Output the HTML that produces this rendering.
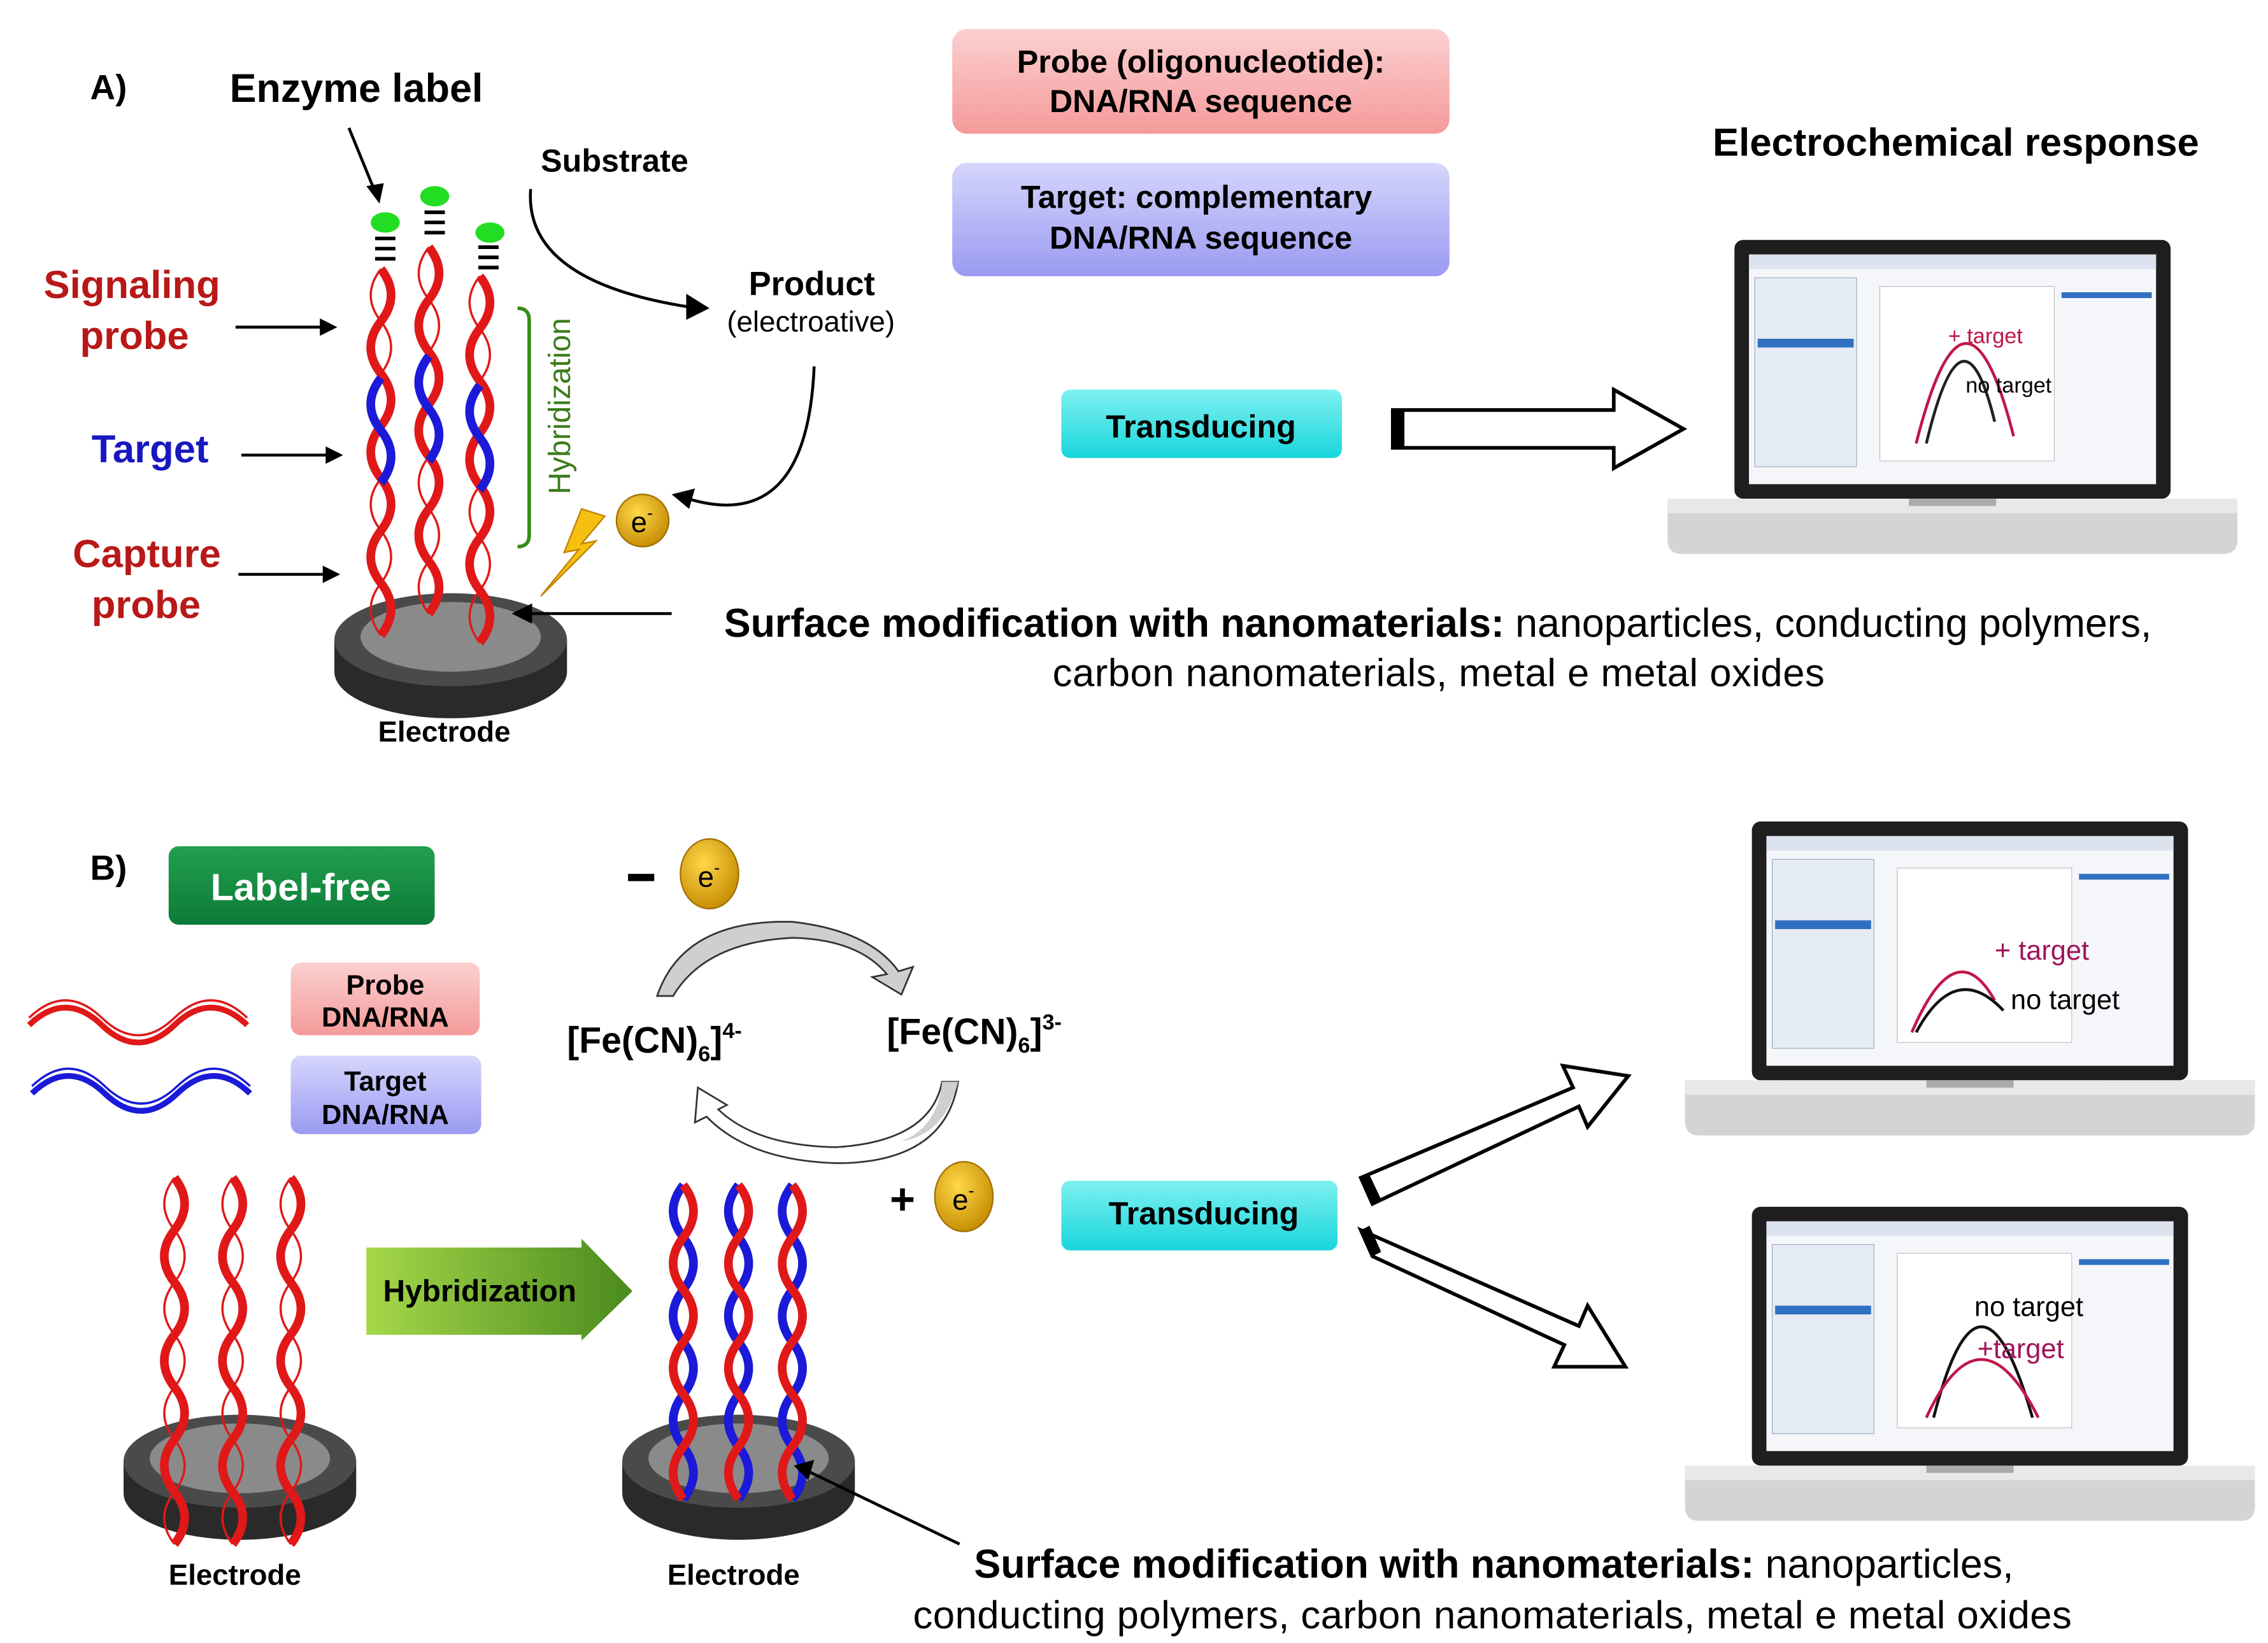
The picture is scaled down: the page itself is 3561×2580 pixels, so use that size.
<!DOCTYPE html>
<html><head><meta charset="utf-8"><style>
html,body{margin:0;padding:0;background:#fff}
svg{display:block}
text{font-family:"Liberation Sans",Arial,sans-serif}
</style></head><body>
<svg width="3561" height="2580" viewBox="0 0 1560 1130" preserveAspectRatio="none" xmlns="http://www.w3.org/2000/svg">
<defs>
<linearGradient id="pink" x1="0" y1="0" x2="0" y2="1"><stop offset="0" stop-color="#fbd0d0"/><stop offset="1" stop-color="#f59a9a"/></linearGradient>
<linearGradient id="blu" x1="0" y1="0" x2="0" y2="1"><stop offset="0" stop-color="#d6d6fc"/><stop offset="1" stop-color="#9a9af2"/></linearGradient>
<linearGradient id="cyan" x1="0" y1="0" x2="0" y2="1"><stop offset="0" stop-color="#7ff0f0"/><stop offset="1" stop-color="#18d6dc"/></linearGradient>
<linearGradient id="grn" x1="0" y1="0" x2="0" y2="1"><stop offset="0" stop-color="#22a050"/><stop offset="1" stop-color="#0c7a36"/></linearGradient>
<linearGradient id="harrow" x1="0" y1="0" x2="1" y2="0"><stop offset="0" stop-color="#a6d84a"/><stop offset="1" stop-color="#4a8a1e"/></linearGradient>
<radialGradient id="gold" cx="0.4" cy="0.35" r="0.7"><stop offset="0" stop-color="#ffd84a"/><stop offset="1" stop-color="#c48a00"/></radialGradient>
<g id="electrode">
<path d="M-80,0 L-80,22 A80,32 0 0 0 80,22 L80,0 Z" fill="#2a2a2a"/>
<ellipse cx="0" cy="0" rx="80" ry="32" fill="#4a4a4a"/>
<ellipse cx="0" cy="-2" rx="62" ry="24" fill="#8a8a8a"/>
</g>
<g id="redstrand">
<path d="M0,0 q14,18 0,36 t0,36 t0,36 t0,36 t0,36 t0,36 t0,36" fill="none" stroke="#e01818" stroke-width="6"/>
<path d="M0,0 q-14,18 0,36 t0,36 t0,36 t0,36 t0,36 t0,36 t0,36" fill="none" stroke="#e01818" stroke-width="1.5"/>
</g>
<g id="duplex">
<path d="M0,0 q-14,18 0,36 t0,36 t0,36 t0,36 t0,36 t0,36" fill="none" stroke="#1a1ad8" stroke-width="6"/>
<path d="M0,0 q14,18 0,36 t0,36 t0,36 t0,36 t0,36 t0,36" fill="none" stroke="#e01818" stroke-width="6"/>
</g>
<g id="laptop">
<rect x="0" y="0" width="300" height="178" rx="6" fill="#1e1e1e"/>
<rect x="10" y="10" width="280" height="158" fill="#f4f6fa"/>
<rect x="10" y="10" width="280" height="10" fill="#dde3ee"/>
<rect x="14" y="26" width="70" height="130" fill="#e6ecf4" stroke="#9ab" stroke-width="0.5"/>
<rect x="16" y="68" width="66" height="6" fill="#3070c0"/>
<rect x="100" y="32" width="120" height="120" fill="#fff" stroke="#bbb" stroke-width="0.5"/>
<rect x="225" y="36" width="62" height="4" fill="#3070c0"/>
<path d="M-46,178 L346,178 L346,206 Q346,216 336,216 L-36,216 Q-46,216 -46,206 Z" fill="#d4d4d4"/>
<rect x="-46" y="178" width="392" height="10" fill="#e8e8e8"/>
<rect x="120" y="178" width="60" height="5" fill="#aaa"/>
</g>
</defs>

<!-- ===== A ===== -->
<text x="62" y="68" font-size="24" font-weight="bold">A)</text>
<text x="158" y="70" font-size="27.5" font-weight="bold">Enzyme label</text>
<line x1="240" y1="88" x2="258" y2="132" stroke="#000" stroke-width="2"/>
<path d="M252,128 L261,140 L264,126 Z"/>
<text x="372" y="118" font-size="22" font-weight="bold">Substrate</text>
<path d="M365,130 Q360,195 480,212" fill="none" stroke="#000" stroke-width="2"/>
<path d="M472,202 L488,212 L472,220 Z"/>
<text x="515" y="203" font-size="23" font-weight="bold">Product</text>
<text x="500" y="228" font-size="20">(electroative)</text>
<path d="M560,252 Q555,370 470,342" fill="none" stroke="#000" stroke-width="2"/>
<path d="M478,336 L462,340 L474,350 Z"/>

<text x="30" y="205" font-size="27" font-weight="bold" fill="#b81818">Signaling</text>
<text x="55" y="240" font-size="27" font-weight="bold" fill="#b81818">probe</text>
<text x="63" y="318" font-size="27" font-weight="bold" fill="#1818c0">Target</text>
<text x="50" y="390" font-size="27" font-weight="bold" fill="#b81818">Capture</text>
<text x="63" y="425" font-size="27" font-weight="bold" fill="#b81818">probe</text>
<g stroke="#000" stroke-width="2"><line x1="162" y1="225" x2="222" y2="225"/><line x1="166" y1="313" x2="226" y2="313"/><line x1="164" y1="395" x2="224" y2="395"/></g>
<path d="M220,219 L232,225 L220,231Z M224,307 L236,313 L224,319Z M222,389 L234,395 L222,401Z"/>

<use href="#electrode" x="310" y="440"/>
<g>
<use href="#redstrand" x="262" y="185"/><use href="#redstrand" x="295" y="170"/><use href="#redstrand" x="330" y="190"/>
<path d="M262,260 q-14,18 0,36 t0,36" fill="none" stroke="#1a1ad8" stroke-width="6"/>
<path d="M295,245 q-14,18 0,36 t0,36" fill="none" stroke="#1a1ad8" stroke-width="6"/>
<path d="M330,265 q-14,18 0,36 t0,36" fill="none" stroke="#1a1ad8" stroke-width="6"/>
</g>
<g stroke="#000" stroke-width="2.5">
<line x1="258" y1="164" x2="272" y2="164"/><line x1="258" y1="171" x2="272" y2="171"/><line x1="258" y1="178" x2="272" y2="178"/>
<line x1="292" y1="146" x2="306" y2="146"/><line x1="292" y1="153" x2="306" y2="153"/><line x1="292" y1="160" x2="306" y2="160"/>
<line x1="329" y1="170" x2="343" y2="170"/><line x1="329" y1="177" x2="343" y2="177"/><line x1="329" y1="184" x2="343" y2="184"/>
</g>
<ellipse cx="265" cy="153" rx="10" ry="7" fill="#22dd22"/>
<ellipse cx="299" cy="135" rx="10" ry="7" fill="#22dd22"/>
<ellipse cx="337" cy="160" rx="10" ry="7" fill="#22dd22"/>
<path d="M356,212 Q364,212 364,220 L364,368 Q364,376 356,376" fill="none" stroke="#3a8a1a" stroke-width="2.5"/>
<text transform="translate(392,340) rotate(-90)" font-size="21" fill="#3a7a1a">Hybridization</text>
<path d="M400,350 L388,380 L398,378 L372,410 L410,372 L400,374 L416,355 Z" fill="#f5c010" stroke="#c08000" stroke-width="1"/>
<circle cx="442" cy="358" r="18" fill="url(#gold)" stroke="#a07000"/>
<text x="434" y="366" font-size="20">e<tspan font-size="12" dy="-9">-</tspan></text>
<line x1="462" y1="422" x2="360" y2="422" stroke="#000" stroke-width="2"/>
<path d="M366,415 L352,422 L366,429 Z"/>
<text x="260" y="510" font-size="20" font-weight="bold">Electrode</text>

<rect x="655" y="20" width="342" height="72" rx="10" fill="url(#pink)"/>
<text x="826" y="50" font-size="22" font-weight="bold" text-anchor="middle">Probe (oligonucleotide):</text>
<text x="826" y="77" font-size="22" font-weight="bold" text-anchor="middle">DNA/RNA sequence</text>
<rect x="655" y="112" width="342" height="78" rx="10" fill="url(#blu)"/>
<text x="823" y="143" font-size="22" font-weight="bold" text-anchor="middle">Target: complementary</text>
<text x="826" y="171" font-size="22" font-weight="bold" text-anchor="middle">DNA/RNA sequence</text>
<text x="1178" y="107" font-size="27" font-weight="bold">Electrochemical response</text>
<rect x="730" y="268" width="193" height="47" rx="6" fill="url(#cyan)"/>
<text x="826" y="301" font-size="22" font-weight="bold" text-anchor="middle">Transducing</text>
<path d="M958,282 L1110,282 L1110,268 L1158,295 L1110,322 L1110,308 L958,308 Z" fill="#fff" stroke="#000" stroke-width="2.5"/>
<rect x="958" y="282" width="8" height="26"/>
<use href="#laptop" x="1193" y="165"/>
<path d="M1325,305 Q1350,200 1372,290" fill="none" stroke="#222" stroke-width="2"/>
<path d="M1318,305 Q1352,170 1385,300" fill="none" stroke="#c01848" stroke-width="2"/>
<text x="1340" y="236" font-size="15" fill="#c01848">+ target</text>
<text x="1352" y="270" font-size="15">no target</text>

<text x="498" y="438" font-size="27.5" textLength="982" lengthAdjust="spacing"><tspan font-weight="bold">Surface modification with nanomaterials:</tspan><tspan> nanoparticles, conducting polymers,</tspan></text>
<text x="724" y="472" font-size="27" textLength="531" lengthAdjust="spacing">carbon nanomaterials, metal e metal oxides</text>

<!-- ===== B ===== -->
<text x="62" y="605" font-size="24" font-weight="bold">B)</text>
<rect x="116" y="582" width="183" height="54" rx="7" fill="url(#grn)"/>
<text x="207" y="619" font-size="26" font-weight="bold" fill="#fff" text-anchor="middle">Label-free</text>
<path d="M20,705 q25,-24 50,0 t50,0 t50,0" fill="none" stroke="#e01818" stroke-width="4"/>
<path d="M20,700 q25,-24 50,0 t50,0 t50,0" fill="none" stroke="#e01818" stroke-width="1.5"/>
<path d="M22,752 q25,-24 50,0 t50,0 t50,0" fill="none" stroke="#1a1ad8" stroke-width="4"/>
<path d="M22,747 q25,-24 50,0 t50,0 t50,0" fill="none" stroke="#1a1ad8" stroke-width="1.5"/>
<rect x="200" y="662" width="130" height="50" rx="7" fill="url(#pink)"/>
<text x="265" y="684" font-size="19" font-weight="bold" text-anchor="middle">Probe</text>
<text x="265" y="706" font-size="19" font-weight="bold" text-anchor="middle">DNA/RNA</text>
<rect x="200" y="726" width="131" height="54" rx="7" fill="url(#blu)"/>
<text x="265" y="750" font-size="19" font-weight="bold" text-anchor="middle">Target</text>
<text x="265" y="773" font-size="19" font-weight="bold" text-anchor="middle">DNA/RNA</text>

<rect x="432" y="601" width="18" height="5"/>
<ellipse cx="488" cy="601" rx="20" ry="24" fill="url(#gold)" stroke="#a07000"/>
<text x="480" y="610" font-size="20">e<tspan font-size="12" dy="-9">-</tspan></text>
<path d="M452,685 Q470,632 545,634 Q598,640 618,668 L628,665 L620,684 L600,672 L610,670 Q590,646 545,645 Q485,648 463,685 Z" fill="#cfcfcf" stroke="#333" stroke-width="1.2"/>
<path d="M659,744 Q650,800 575,800 Q515,798 486,768 L478,772 L480,748 L500,760 L494,763 Q520,788 575,789 Q640,785 648,744 Z" fill="#fff" stroke="#333" stroke-width="1.2"/>
<path d="M659,744 L648,744 Q645,775 620,785 Q650,780 659,744 Z" fill="#cfcfcf"/>
<text x="390" y="724" font-size="25" font-weight="bold">[Fe(CN)<tspan font-size="15" dy="6">6</tspan><tspan dy="-6">]</tspan><tspan font-size="15" dy="-10">4-</tspan></text>
<text x="610" y="718" font-size="25" font-weight="bold">[Fe(CN)<tspan font-size="15" dy="6">6</tspan><tspan dy="-6">]</tspan><tspan font-size="15" dy="-10">3-</tspan></text>
<text x="612" y="835" font-size="30" font-weight="bold">+</text>
<ellipse cx="663" cy="823" rx="20" ry="24" fill="url(#gold)" stroke="#a07000"/>
<text x="655" y="832" font-size="20">e<tspan font-size="12" dy="-9">-</tspan></text>

<use href="#electrode" x="165" y="1005"/>
<use href="#redstrand" x="120" y="810"/><use href="#redstrand" x="160" y="810"/><use href="#redstrand" x="200" y="810"/>
<text x="116" y="1090" font-size="20" font-weight="bold">Electrode</text>
<path d="M252,858 L400,858 L400,852 L435,888 L400,922 L400,918 L252,918 Z" fill="url(#harrow)"/>
<text x="330" y="895" font-size="21" font-weight="bold" text-anchor="middle">Hybridization</text>
<use href="#electrode" x="508" y="1005"/>
<use href="#duplex" x="470" y="815"/><use href="#duplex" x="508" y="815"/><use href="#duplex" x="545" y="815"/>
<text x="459" y="1090" font-size="20" font-weight="bold">Electrode</text>
<line x1="660" y1="1062" x2="556" y2="1012" stroke="#000" stroke-width="2"/>
<path d="M560,1004 L546,1008 L556,1018 Z"/>

<rect x="730" y="812" width="190" height="48" rx="6" fill="url(#cyan)"/>
<text x="828" y="842" font-size="22" font-weight="bold" text-anchor="middle">Transducing</text>
<path d="M936,810 L1082,748 L1075,733 L1120,740 L1092,775 L1086,761 L944,828 Z" fill="#fff" stroke="#000" stroke-width="2.5"/>
<path d="M936,810 L944,828 L950,825 L942,808Z"/>
<path d="M936,846 L944,864 L1076,925 L1069,940 L1118,940 L1092,898 L1086,912 Z" fill="#fff" stroke="#000" stroke-width="2.5"/>
<path d="M936,846 L944,864 L950,861 L942,843Z"/>

<use href="#laptop" x="1205" y="565"/>
<path d="M1315,710 Q1345,640 1372,688" fill="none" stroke="#c01848" stroke-width="2"/>
<path d="M1318,710 Q1345,660 1378,695" fill="none" stroke="#111" stroke-width="2"/>
<text x="1372" y="660" font-size="19" fill="#a0145a">+ target</text>
<text x="1383" y="694" font-size="19">no target</text>
<use href="#laptop" x="1205" y="830"/>
<path d="M1330,975 Q1362,850 1398,975" fill="none" stroke="#111" stroke-width="2"/>
<path d="M1325,975 Q1362,895 1402,975" fill="none" stroke="#c01848" stroke-width="2"/>
<text x="1358" y="905" font-size="19">no target</text>
<text x="1360" y="934" font-size="19" fill="#a0145a">+target</text>

<text x="670" y="1085" font-size="27.5" textLength="715" lengthAdjust="spacing"><tspan font-weight="bold">Surface modification with nanomaterials:</tspan><tspan> nanoparticles,</tspan></text>
<text x="628" y="1120" font-size="27" textLength="797" lengthAdjust="spacing">conducting polymers, carbon nanomaterials, metal e metal oxides</text>
</svg>
</body></html>
